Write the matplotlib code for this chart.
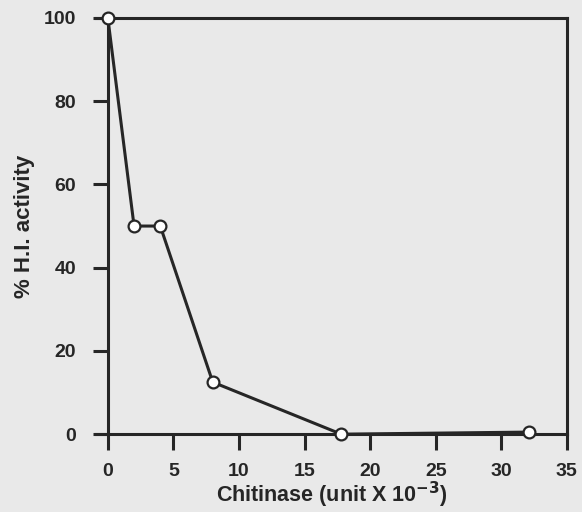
import matplotlib.pyplot as plt

plt.rcParams['font.family'] = ['Liberation Sans', 'DejaVu Sans']
plt.rcParams['font.weight'] = 'bold'

# chitinase dose vs remaining H.I. activity
chitinase = [0, 2, 4, 8, 17.8, 32.1]
hi_activity = [100, 50, 50, 12.5, 0, 0.5]

x_ticks = [0, 5, 10, 15, 20, 25, 30, 35]
y_ticks = [0, 20, 40, 60, 80, 100]

ink = '#262626'
paper = '#e9e9e9'

fig = plt.figure(figsize=(5.82, 5.12), dpi=100, facecolor=paper)
ax = fig.add_axes([0.165, 0.152, 0.809, 0.813], facecolor=paper)

ax.plot(chitinase, hi_activity, color=ink, lw=2.2, marker='o', ms=8.5,
        mfc='white', mec=ink, mew=1.6, clip_on=False, zorder=5)

ax.set_xlim(-0.9, 35)
ax.set_ylim(0, 100)
ax.spines['left'].set_position(('data', 0))
for s in ax.spines.values():
    s.set_linewidth(2.2)
    s.set_color(ink)

ax.set_xticks(x_ticks)
ax.set_yticks(y_ticks)
ax.tick_params(axis='x', direction='out', length=11.5, width=2.2, color=ink,
               pad=9, labelsize=14)
ax.tick_params(axis='y', direction='out', length=11, width=2.2, color=ink,
               pad=12, labelsize=14)
for lab in ax.get_xticklabels() + ax.get_yticklabels():
    lab.set_fontweight('bold')
    lab.set_color(ink)

ax.set_xlabel('Chitinase (unit X 10$^{\\mathbf{-3}}$)', fontsize=15.5,
              fontweight='bold', color=ink, labelpad=0)
ax.set_ylabel('% H.I. activity', fontsize=16, fontweight='bold', color=ink,
              labelpad=6)

fig.savefig('out.png', dpi=100, facecolor=paper)
